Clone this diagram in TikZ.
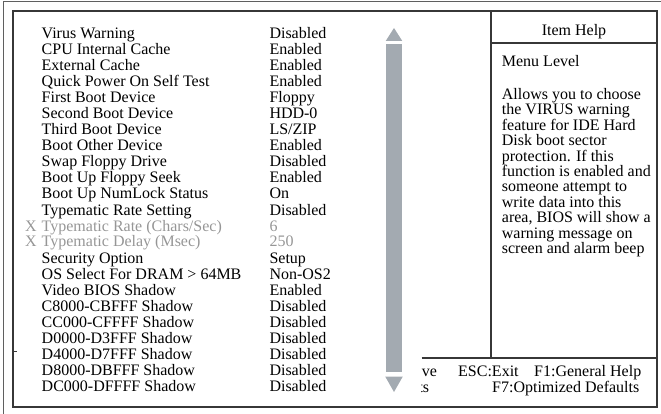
\documentclass[tikz,border=0pt]{standalone}
\usepackage{fontspec}
\setmainfont{Liberation Serif}
\definecolor{framec}{RGB}{55,55,55}
\definecolor{barc}{RGB}{163,170,177}
\definecolor{dimc}{RGB}{150,150,150}
\begin{document}
\begin{tikzpicture}[x=1pt,y=-1pt,
  txt/.style={inner sep=0pt, anchor=base west, font=\fontsize{16}{16}\selectfont},
  dim/.style={txt, text=dimc},
  frame/.style={draw=framec, line width=1.1pt},
  outerframe/.style={draw=framec!80, line width=1pt},
  bar/.style={fill=barc, draw=none}]
\useasboundingbox (0,0) rectangle (661,414);
\begin{scope}
  \clip (0,0) rectangle (661,414);
  \draw[outerframe] (3,2) rectangle (690,440);
\end{scope}
% inner frame
\draw[frame] (13,11) rectangle (657,407);
\coordinate (hTop) at (491,11);
\coordinate (hMid) at (491,358);
\coordinate (hHeadL) at (491,43);
\coordinate (hHeadR) at (657,43);
\coordinate (kL) at (421.5,358);
\coordinate (kR) at (657,358);
\draw[frame] (hTop) -- (hMid);
\draw[frame] (hHeadL) -- (hHeadR);
\draw[frame] (kL) -- (kR);
\coordinate (tickA) at (13,351);
\coordinate (tickB) at (17,351);
\draw[framec, line width=0.8pt] (tickA) -- (tickB);
% scroll bar
\fill[bar] (394,28) -- (402.3,41) -- (385.7,41) -- cycle;
\fill[bar] (386,44.5) rectangle (402,372);
\fill[bar] (385.2,376.5) -- (402.8,376.5) -- (394,392) -- cycle;
% list
\node[txt] (l1) at (41.5,39) {Virus Warning};
\node[txt] (v1) at (269.3,39) {Disabled};
\node[txt] (l2) at (41.5,55) {CPU Internal Cache};
\node[txt] (v2) at (269.3,55) {Enabled};
\node[txt] (l3) at (41.5,71) {External Cache};
\node[txt] (v3) at (269.3,71) {Enabled};
\node[txt] (l4) at (41.5,87) {Quick Power On Self Test};
\node[txt] (v4) at (269.3,87) {Enabled};
\node[txt] (l5) at (41.5,103) {First Boot Device};
\node[txt] (v5) at (269.3,103) {Floppy};
\node[txt] (l6) at (41.5,119) {Second Boot Device};
\node[txt] (v6) at (269.3,119) {HDD-0};
\node[txt] (l7) at (41.5,135) {Third Boot Device};
\node[txt] (v7) at (269.3,135) {LS/ZIP};
\node[txt] (l8) at (41.5,151) {Boot Other Device};
\node[txt] (v8) at (269.3,151) {Enabled};
\node[txt] (l9) at (41.5,167) {Swap Floppy Drive};
\node[txt] (v9) at (269.3,167) {Disabled};
\node[txt] (l10) at (41.5,183) {Boot Up Floppy Seek};
\node[txt] (v10) at (269.3,183) {Enabled};
\node[txt] (l11) at (41.5,199) {Boot Up NumLock Status};
\node[txt] (v11) at (269.3,199) {On};
\node[txt] (l12) at (41.5,215) {Typematic Rate Setting};
\node[txt] (v12) at (269.3,215) {Disabled};
\node[dim] (x13) at (25,231) {X};
\node[dim] (l13) at (41.5,231) {Typematic Rate (Chars/Sec)};
\node[dim] (v13) at (269.3,231) {6};
\node[dim] (x14) at (25,247) {X};
\node[dim] (l14) at (41.5,247) {Typematic Delay (Msec)};
\node[dim] (v14) at (269.3,247) {250};
\node[txt] (l15) at (41.5,263) {Security Option};
\node[txt] (v15) at (269.3,263) {Setup};
\node[txt] (l16) at (41.5,279) {OS Select For DRAM > 64MB};
\node[txt] (v16) at (269.3,279) {Non-OS2};
\node[txt] (l17) at (41.5,295) {Video BIOS Shadow};
\node[txt] (v17) at (269.3,295) {Enabled};
\node[txt] (l18) at (41.5,311) {C8000-CBFFF Shadow};
\node[txt] (v18) at (269.3,311) {Disabled};
\node[txt] (l19) at (41.5,327) {CC000-CFFFF Shadow};
\node[txt] (v19) at (269.3,327) {Disabled};
\node[txt] (l20) at (41.5,343) {D0000-D3FFF Shadow};
\node[txt] (v20) at (269.3,343) {Disabled};
\node[txt] (l21) at (41.5,359) {D4000-D7FFF Shadow};
\node[txt] (v21) at (269.3,359) {Disabled};
\node[txt] (l22) at (41.5,375) {D8000-DBFFF Shadow};
\node[txt] (v22) at (269.3,375) {Disabled};
\node[txt] (l23) at (41.5,391) {DC000-DFFFF Shadow};
\node[txt] (v23) at (269.3,391) {Disabled};
% help panel
\node[txt, anchor=base] (ih) at (574,35.3) {Item Help};
\node[txt] (ml) at (501.7,67) {Menu Level};
\node[txt] (h1) at (501.7,99.5) {Allows you to choose};
\node[txt] (h2) at (501.7,114.9) {the VIRUS warning};
\node[txt] (h3) at (501.7,130.3) {feature for IDE Hard};
\node[txt] (h4) at (501.7,145.7) {Disk boot sector};
\node[txt] (h5) at (501.7,161.1) {protection. If this};
\node[txt] (h6) at (501.7,176.5) {function is enabled and};
\node[txt] (h7) at (501.7,191.9) {someone attempt to};
\node[txt] (h8) at (501.7,207.3) {write data into this};
\node[txt] (h9) at (501.7,222.7) {area, BIOS will show a};
\node[txt] (h10) at (501.7,238.1) {warning message on};
\node[txt] (h11) at (501.7,253.5) {screen and alarm beep};
% key bar
\begin{scope}
  \clip (421.5,360) rectangle (657,406);
  \node[txt] (k1) at (421.7,376) {ve};
  \node[txt] (k2) at (418.3,392) {ts};
\end{scope}
\node[txt] (k3) at (458,376) {ESC:Exit};
\node[txt] (k4) at (534,376) {F1:General Help};
\node[txt] (k5) at (492,392) {F7:Optimized Defaults};
\end{tikzpicture}
\end{document}
